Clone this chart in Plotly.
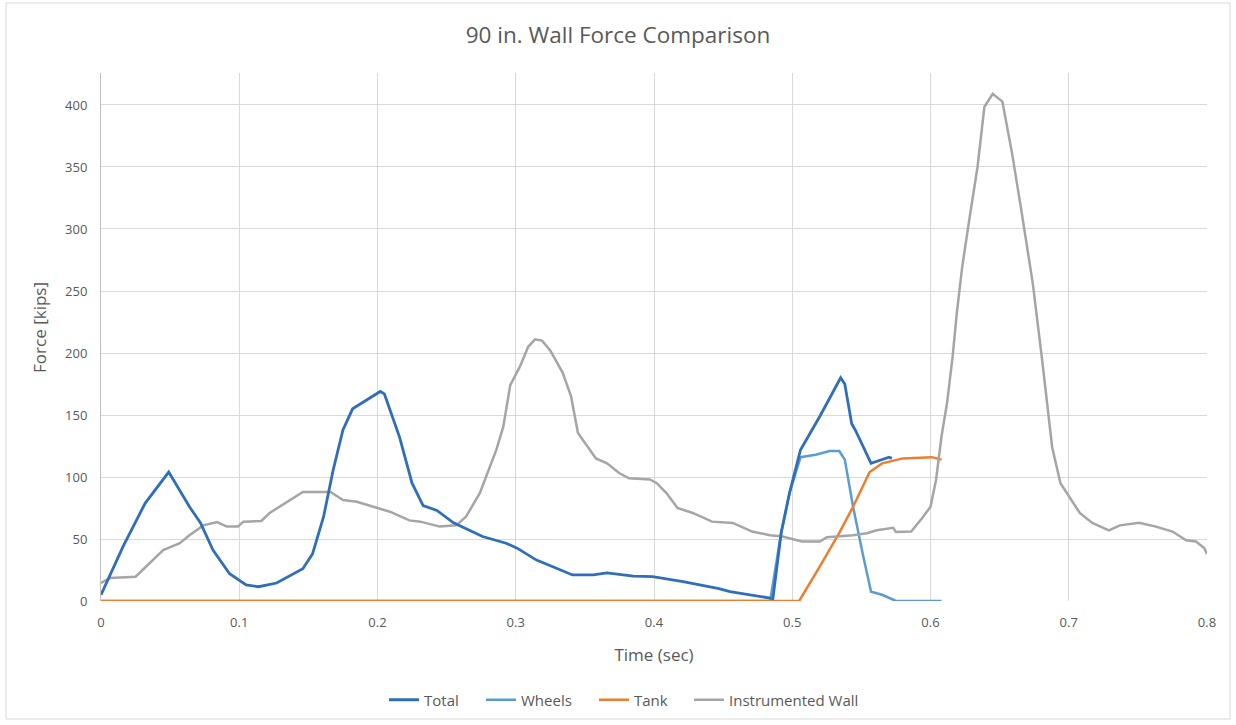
import plotly.graph_objects as go

# Values (time in sec, force in kips)
total_t = [0, 0.008, 0.016, 0.032, 0.049, 0.064, 0.072, 0.081, 0.093, 0.105, 0.114, 0.127,
           0.146, 0.153, 0.161, 0.168, 0.175, 0.182, 0.192, 0.202, 0.205, 0.216, 0.225,
           0.233, 0.243, 0.255, 0.276, 0.293, 0.301, 0.315, 0.329, 0.341, 0.356, 0.366,
           0.385, 0.399, 0.421, 0.447, 0.455, 0.484, 0.486, 0.492, 0.498, 0.506, 0.520,
           0.535, 0.538, 0.543, 0.546, 0.557, 0.570, 0.572]
total_f = [5, 25, 44, 79, 104, 76, 63, 41, 22, 13, 11.5, 14.5,
           26, 38, 68, 106, 138, 155, 162, 169, 167, 132, 95,
           77, 73, 63, 52, 46.6, 42.6, 33, 26.6, 21, 21, 22.6,
           20, 19.6, 15.6, 10, 7.5, 2.4, 2, 55, 87, 122, 149,
           180, 175, 143, 137, 111, 116, 115]

wheels_t = [0, 0.484, 0.492, 0.498, 0.506, 0.517, 0.527, 0.534, 0.538, 0.544, 0.551,
            0.557, 0.565, 0.575, 0.608]
wheels_f = [0, 0, 55, 87, 116, 118, 121, 121, 114, 76, 38, 7.5, 5, 0, 0]

tank_t = [0, 0.505, 0.520, 0.534, 0.544, 0.556, 0.565, 0.580, 0.601, 0.608]
tank_f = [0, 0, 28, 55, 76, 104, 111, 115, 116, 114]

wall_t = [0, 0.0065, 0.025, 0.030, 0.045, 0.057, 0.064, 0.074, 0.084, 0.091, 0.099,
          0.103, 0.116, 0.122, 0.137, 0.146, 0.166, 0.175, 0.185, 0.197, 0.209, 0.223,
          0.231, 0.245, 0.257, 0.264, 0.274, 0.286, 0.291, 0.296, 0.303, 0.309, 0.314,
          0.319, 0.325, 0.334, 0.340, 0.345, 0.358, 0.366, 0.375, 0.382, 0.397, 0.402,
          0.409, 0.417, 0.428, 0.442, 0.457, 0.471, 0.484, 0.493, 0.507, 0.520, 0.525,
          0.544, 0.554, 0.561, 0.573, 0.575, 0.586, 0.594, 0.600, 0.604, 0.608, 0.612,
          0.616, 0.619, 0.623, 0.628, 0.634, 0.639, 0.645, 0.652, 0.659, 0.666, 0.674,
          0.681, 0.688, 0.694, 0.708, 0.717, 0.729, 0.737, 0.751, 0.763, 0.775, 0.785,
          0.792, 0.798, 0.8]
wall_f = [14.5, 18.5, 19.6, 25, 41, 46.6, 53, 61, 63.7, 60, 60,
          64, 64.5, 71, 81.5, 88, 88, 81.5, 80, 76, 72, 65,
          64, 60, 61, 68, 87, 122, 140.6, 174, 189, 205, 211,
          210, 202, 184, 165, 135.5, 115, 111, 103, 99, 98, 95,
          87, 75, 71, 64, 63, 56, 53, 52, 48, 48, 51.5,
          53, 54.7, 57, 59, 55.6, 56, 67, 76, 97.6, 133, 160,
          197, 232, 270, 307, 350, 398.6, 409, 402.7, 361, 313, 256,
          192, 124, 95, 71, 63, 57, 61, 63, 60, 56, 49,
          48, 42.7, 38]

fig = go.Figure()
# drawing order: wheels under tank (orange shows along zero), total on top
fig.add_trace(go.Scatter(x=wheels_t, y=wheels_f, mode="lines", name="Wheels",
                         line=dict(color="#5B9BD5", width=2.5), legend="legend2"))
fig.add_trace(go.Scatter(x=tank_t, y=tank_f, mode="lines", name="Tank",
                         line=dict(color="#ED7D31", width=2.5), legend="legend3"))
fig.add_trace(go.Scatter(x=wall_t, y=wall_f, mode="lines", name="Instrumented Wall",
                         line=dict(color="#A5A5A5", width=2.5), legend="legend4"))
fig.add_trace(go.Scatter(x=total_t, y=total_f, mode="lines", name="Total",
                         line=dict(color="#2F6EBA", width=2.8), legend="legend"))

# light frame around the whole chart
fig.add_shape(type="rect", xref="paper", yref="paper",
              x0=-0.0859, x1=1.0208, y0=-0.2235, y1=1.1326,
              line=dict(color="#D9D9D9", width=1))

# y-axis title as an annotation (sits a little above the plot centre in the original)
fig.add_annotation(text="Force [kips]", xref="paper", yref="paper",
                   x=-0.0552, y=0.519, textangle=-90, showarrow=False,
                   xanchor="center", yanchor="middle",
                   font=dict(size=17, color="#595959"))

# one legend per series so the entries can be spaced like the original
leg = dict(orientation="h", xref="container", yref="container", xanchor="left",
           y=0.0345, yanchor="middle", font=dict(size=15, color="#595959"),
           bgcolor="rgba(0,0,0,0)")
legend_x = [384, 481, 594, 689]

fig.update_layout(
    width=1236, height=725,
    paper_bgcolor="white", plot_bgcolor="white",
    font=dict(family="Open Sans, sans-serif", color="#595959", size=13),
    title=dict(text="90 in. Wall Force Comparison", x=0.5, xanchor="center",
               y=0.952, yanchor="middle", font=dict(size=22.5, color="#595959")),
    margin=dict(l=101, r=29, t=73, b=124),
    showlegend=True,
    legend=dict(leg, x=legend_x[0] / 1236),
    legend2=dict(leg, x=legend_x[1] / 1236),
    legend3=dict(leg, x=legend_x[2] / 1236),
    legend4=dict(leg, x=legend_x[3] / 1236),
    xaxis=dict(range=[0, 0.8], dtick=0.1, showgrid=True, gridcolor="#D9D9D9",
               zeroline=False, showline=False, ticks="", automargin=False,
               ticklabelstandoff=12,
               title=dict(text="Time (sec)", font=dict(size=17), standoff=19),
               tickformat="~g"),
    yaxis=dict(range=[0, 425.8], dtick=50, showgrid=True, gridcolor="#D9D9D9",
               zeroline=False, showline=True, linecolor="#BFBFBF", ticks="",
               automargin=False, ticklabelstandoff=10),
)

# the page body has a default 8px margin; remove it so the chart sits at 0,0
fig.write_html("out.html", config={"displayModeBar": False},
               post_script="document.body.style.margin='0';")
